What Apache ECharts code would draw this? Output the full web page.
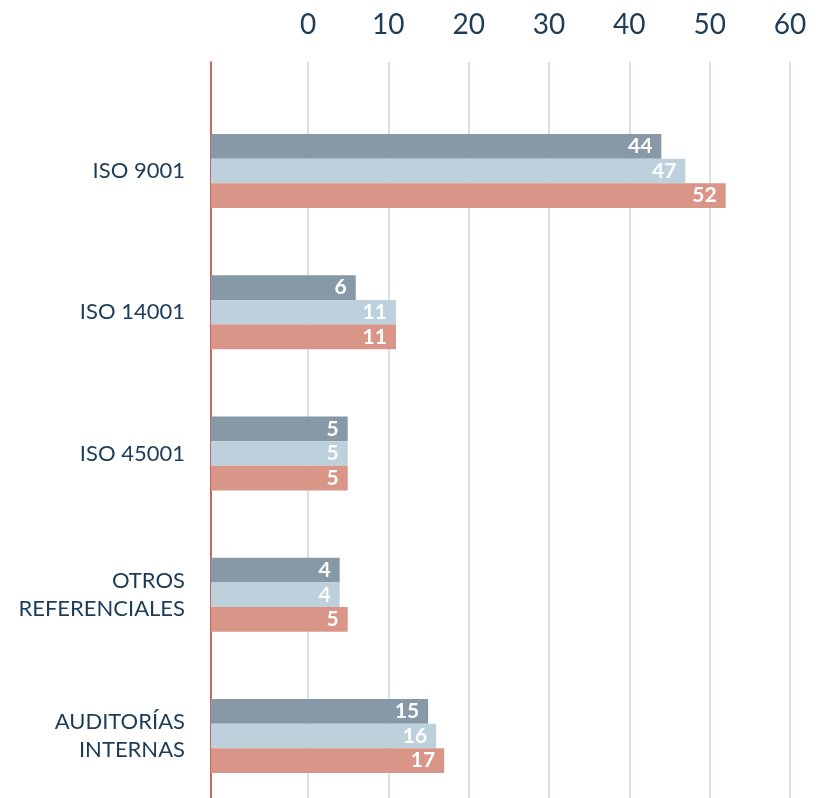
<!DOCTYPE html>
<html>
<head>
<meta charset="utf-8">
<style>
  html, body { margin: 0; padding: 0; background: #ffffff; }
  #chart { width: 818px; height: 798px; }
</style>
<script src="https://cdn.jsdelivr.net/npm/echarts@6/dist/echarts.min.js"></script>
</head>
<body>
<div id="chart"></div>
<script>
// Certification / audit counts per standard, three periods
const categories = ['ISO 9001', 'ISO 14001', 'ISO 45001', 'OTROS\nREFERENCIALES', 'AUDITORÍAS\nINTERNAS'];
const seriesA = [44, 6, 5, 4, 15];
const seriesB = [47, 11, 5, 4, 16];
const seriesC = [52, 11, 5, 5, 17];
const tickValues = [0, 10, 20, 30, 40, 50, 60];

const TEXT = '#1c3c58';
const FONT = 'Lato, "Open Sans", sans-serif';

const labelStyle = {
  show: true,
  position: 'insideRight',
  distance: 9,
  color: '#ffffff',
  fontFamily: FONT,
  fontWeight: 'bold',
  fontSize: 21
};

function barSeries(name, data, color) {
  return {
    name: name,
    type: 'bar',
    xAxisIndex: 1,
    yAxisIndex: 1,
    data: data,
    barWidth: 24.7,
    barGap: '0%',
    itemStyle: { color: color },
    label: labelStyle,
    emphasis: { disabled: true }
  };
}

const chart = echarts.init(document.getElementById('chart'), null, { renderer: 'canvas' });
chart.setOption({
  animation: false,
  grid: [
    // scale grid: tick labels and vertical guide lines
    { left: 308, right: 28, top: 62, bottom: 0, outerBoundsMode: 'none' },
    // bar grid (runs a little past the bottom edge of the canvas)
    { left: 211, right: 28, top: 100.4, height: 706.2, outerBoundsMode: 'none' }
  ],
  xAxis: [
    {
      gridIndex: 0,
      type: 'value',
      position: 'top',
      min: tickValues[0],
      max: tickValues[tickValues.length - 1],
      interval: 10,
      axisLine: { show: false },
      axisTick: { show: false },
      axisLabel: {
        color: TEXT,
        fontFamily: FONT,
        fontSize: 28,
        margin: 23
      },
      splitLine: { show: true, lineStyle: { color: '#c9d7e1', width: 1.5 } }
    },
    {
      gridIndex: 1,
      type: 'value',
      min: -12,
      max: 60,
      startValue: -12,
      show: false
    }
  ],
  yAxis: [
    {
      gridIndex: 0,
      type: 'value',
      position: 'left',
      offset: 97,
      axisLine: { show: true, onZero: false, lineStyle: { color: '#b2362c', width: 1.5 } },
      axisTick: { show: false },
      axisLabel: { show: false },
      splitLine: { show: false }
    },
    {
      gridIndex: 1,
      type: 'category',
      inverse: true,
      data: categories,
      axisLine: { show: false },
      axisTick: { show: false },
      axisLabel: {
        color: TEXT,
        fontFamily: FONT,
        fontSize: 22,
        lineHeight: 28,
        margin: 26,
        align: 'right'
      }
    }
  ],
  series: [
    barSeries('A', seriesA, '#8799a6'),
    barSeries('B', seriesB, '#bdd1dd'),
    barSeries('C', seriesC, '#d99688')
  ]
});
</script>
</body>
</html>
